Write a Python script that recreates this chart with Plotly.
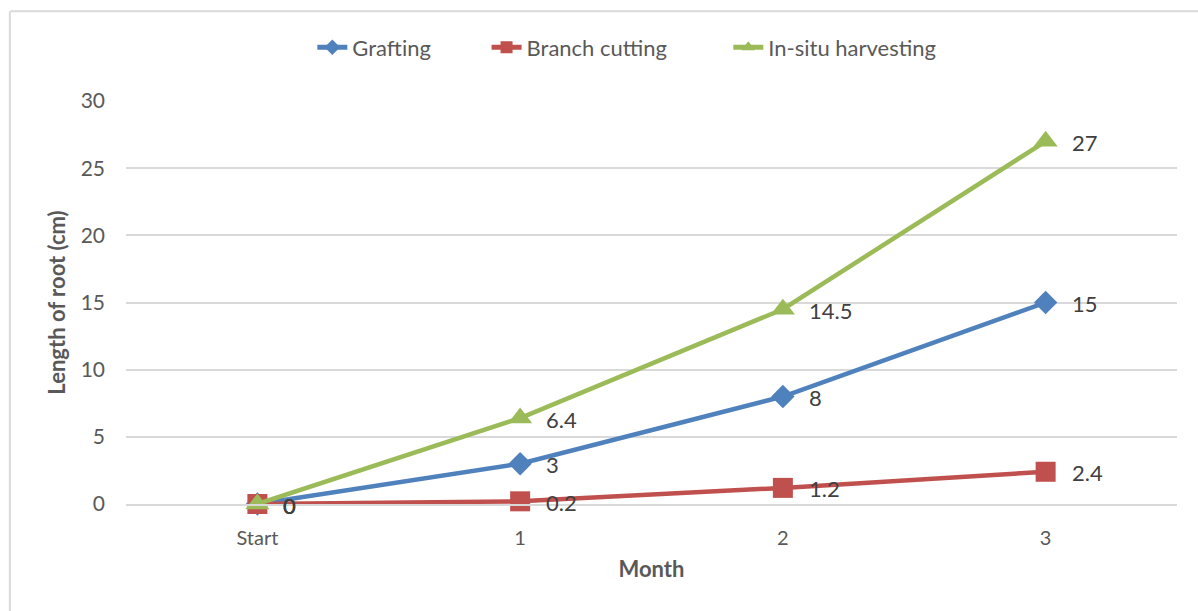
import plotly.graph_objects as go

categories = ["Start", "1", "2", "3"]
grafting = [0, 3, 8, 15]
branch_cutting = [0, 0.2, 1.2, 2.4]
insitu = [0, 6.4, 14.5, 27]
y_ticks = [0, 5, 10, 15, 20, 25, 30]

FONT = "Lato, 'Open Sans', sans-serif"
TXT = "#595959"
NB = "\u00a0"

fig = go.Figure()

def add(name, vals, color, symbol, size, pad):
    fig.add_trace(go.Scatter(
        x=categories, y=vals, name=name + NB * pad, mode="lines+markers",
        line=dict(color=color, width=4.5),
        marker=dict(symbol=symbol, size=size, color=color),
        cliponaxis=False,
    ))
    for c, v in zip(categories, vals):
        fig.add_annotation(x=c, y=v, text=str(v), showarrow=False,
                           xanchor="left", yanchor="middle", xshift=24, yshift=-1,
                           font=dict(family=FONT, size=22, color="#404040"))

add("Grafting", grafting, "#4F81BD", "diamond", 18, 9)
add("Branch cutting", branch_cutting, "#C0504D", "square", 20, 10)
add("In-situ harvesting", insitu, "#9BBB59", "triangle-up", 21, 0)

# light frame
fig.add_shape(type="line", xref="paper", yref="paper", x0=-0.11, x1=1.03, y0=1.223, y1=1.223,
              line=dict(color="#D9D9D9", width=2))
fig.add_shape(type="line", xref="paper", yref="paper", x0=-0.1105, x1=-0.1105, y0=-0.3, y1=1.223,
              line=dict(color="#D9D9D9", width=2))

fig.update_layout(
    width=1198, height=611,
    margin=dict(l=125.5, r=20.5, t=101, b=107),
    paper_bgcolor="white", plot_bgcolor="white",
    font=dict(family=FONT, color=TXT, size=18),
    showlegend=True,
    legend=dict(orientation="h", x=(312 - 125.5) / 1052, xanchor="left", y=1.133, yanchor="middle",
                font=dict(size=22, color=TXT), itemsizing="constant"),
    xaxis=dict(type="category", range=[-0.5, 3.5], showgrid=False,
               showline=True, linecolor="#D9D9D9", linewidth=1.5,
               ticks="outside", ticklen=15, tickcolor="rgba(255,255,255,0)",
               tickfont=dict(size=20, color=TXT),
               title=dict(text="<b>Month</b>", font=dict(size=22, color=TXT), standoff=14)),
    yaxis=dict(range=[0, 30], tickvals=y_ticks, showgrid=True, gridcolor="#D9D9D9",
               gridwidth=1.5, zeroline=False, showline=False, ticks="",
               tickfont=dict(size=21, color=TXT), ticklabelstandoff=20,
               title=dict(text="<b>Length of root (cm)</b>", font=dict(size=22, color=TXT), standoff=8)),
)

fig.write_html("out.html")
